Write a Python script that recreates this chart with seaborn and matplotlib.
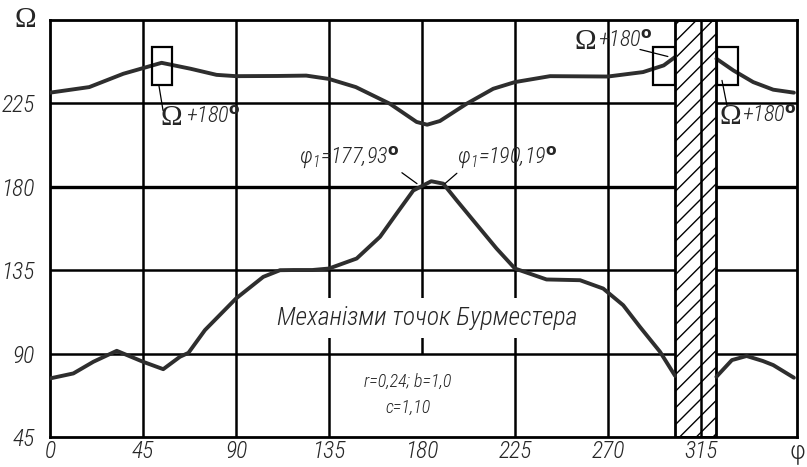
import matplotlib
matplotlib.use("Agg")
import matplotlib.pyplot as plt
from matplotlib import font_manager
import seaborn as sns
import pandas as pd

# Omega(phi) curves; the band 302.5..322.5 is excluded
upper_phi_a = [0, 19, 35.5, 54, 68, 80.6, 90, 110, 124, 135, 148, 164.5, 177.4, 182.5, 188.7, 201.6,
               214.5, 225, 242, 270, 287, 297, 302.5]
upper_om_a = [230.8, 233.8, 241, 246.9, 243.7, 240.4, 239.7, 239.8, 240, 238.2, 233.8, 224.8, 215,
              213.5, 215.5, 224.8, 232.9, 236.5, 239.7, 239.5, 241.9, 245.5, 250]
upper_phi_b = [322.5, 330.7, 340.3, 350, 360]
upper_om_b = [249.1, 242.8, 236.5, 232.4, 230.8]

lower_phi_a = [0, 11.3, 21, 32.3, 45, 54.8, 62.9, 67, 75, 90, 103.2, 111.3, 118, 127, 135, 148.4,
               159.7, 167.7, 175.8, 184.5, 190.3, 196.8, 204.8, 216.1, 225, 240.3, 256.5, 267.7,
               277.4, 285.5, 295.2, 302.5]
lower_om_a = [76.6, 79.3, 85.6, 91.5, 85.6, 81.6, 88.3, 90.4, 102.7, 119.7, 131.4, 135, 135.1, 135.1,
              135.9, 141.3, 153, 165.5, 178, 183, 181.7, 172.7, 161.9, 146.7, 135.9, 130, 129.6, 125.1,
              116.1, 104.4, 91, 78]
lower_phi_b = [322.5, 330, 337.1, 345, 350, 360]
lower_om_b = [77.5, 86.5, 88.7, 86, 83.8, 77]

x_ticks = [0, 45, 90, 135, 180, 225, 270, 315]
y_ticks = [45, 90, 135, 180, 225]
band = (302.5, 322.5)

# narrow italic font, first one that is installed
names = {f.name for f in font_manager.fontManager.ttflist}
font = "DejaVu Sans"
for cand in ["Liberation Sans Narrow", "Roboto Condensed", "Open Sans Condensed", "Roboto", "Lato"]:
    if cand in names:
        font = cand
        break

sns.set_style("white")
plt.rcParams["font.family"] = [font, "DejaVu Sans"]
plt.rcParams["font.weight"] = 300
plt.rcParams["mathtext.fontset"] = "custom"
plt.rcParams["mathtext.rm"] = font + ":italic:light"
plt.rcParams["mathtext.it"] = font + ":italic:light"
plt.rcParams["mathtext.bf"] = "DejaVu Sans:bold"
plt.rcParams["hatch.linewidth"] = 1.0

fig = plt.figure(figsize=(8.07, 4.67), dpi=100)
ax = fig.add_axes([50 / 807, 30 / 467, 747 / 807, 417 / 467])
ax.set_xlim(0, 361.5)
ax.set_ylim(45, 270)

# grid, drawn by hand because the 180 line stops at 90
for xv in [45, 90, 135, 225, 270, 315]:
    ax.axvline(xv, color="black", lw=1.8, zorder=1)
ax.vlines(180, 90, 270, color="black", lw=1.8, zorder=1)
for yv in [90, 135, 225]:
    ax.axhline(yv, color="black", lw=1.8, zorder=1)
ax.axhline(180, color="black", lw=2.4, zorder=1)

ax.axvspan(*band, facecolor="white", edgecolor="black", hatch="//", lw=2, zorder=2)
ax.axvline(315, color="black", lw=1.8, zorder=3)

curve_kw = dict(color="#2e2e2e", lw=2.8, zorder=4, sort=False)
for px, py in [(upper_phi_a, upper_om_a), (upper_phi_b, upper_om_b),
               (lower_phi_a, lower_om_a), (lower_phi_b, lower_om_b)]:
    df = pd.DataFrame({"phi": px, "om": py})
    sns.lineplot(data=df, x="phi", y="om", ax=ax, **curve_kw)

# little boxes marking the Omega+180 jumps
for x0, x1 in [(49.4, 59), (291.6, 302.4), (322.6, 333.1)]:
    ax.add_patch(plt.Rectangle((x0, 235.1), x1 - x0, 20.5, fill=False, ec="black", lw=1.6, zorder=5))

deg = r"$^{\mathbf{o}}$"


def omega_label(xo, xp, yv, line):
    ax.text(xo, yv, "Ω", fontsize=21, family="Liberation Serif", ha="center", va="center", zorder=6)
    ax.text(xp, yv + 1, "+180" + deg, fontsize=16, style="italic", ha="left", va="center", zorder=6)
    ax.plot(line[0], line[1], color="black", lw=0.9, zorder=6)


omega_label(58.5, 66.0, 216.9, ([52.7, 54.7], [234.7, 221.2]))
omega_label(258.9, 265.0, 257.9, ([285.5, 299.0], [254.1, 250.3]))
omega_label(329.0, 335.0, 217.5, ([325.2, 327.6], [237.4, 223.9]))

ax.text(145, 195.5, "φ$_1$=177,93" + deg, fontsize=16, style="italic", ha="center", va="center", zorder=6)
ax.plot([170.3, 177.6], [187.6, 181.7], color="black", lw=0.9, zorder=6)
ax.text(221, 195.5, "φ$_1$=190,19" + deg, fontsize=16, style="italic", ha="center", va="center", zorder=6)
ax.plot([196.9, 191.1], [187.3, 181.7], color="black", lw=0.9, zorder=6)

ax.text(182.4, 109.1, "Механізми точок Бурместера", fontsize=18.5, style="italic", ha="center",
        va="center", zorder=6, bbox=dict(facecolor="white", edgecolor="none", pad=6))
ax.text(173.2, 74.6, "r=0,24; b=1,0", fontsize=13, style="italic", ha="center", va="center", zorder=6)
ax.text(173.2, 60.6, "c=1,10", fontsize=13, style="italic", ha="center", va="center", zorder=6)

ax.set_xticks(x_ticks)
ax.set_xticklabels([str(v) for v in x_ticks], fontsize=17, style="italic")
ax.set_yticks(y_ticks)
ax.set_yticklabels([str(v) for v in y_ticks], fontsize=17, style="italic")
ax.tick_params(length=0, pad=2)
ax.tick_params(axis="y", pad=11)
ax.set_xlabel("")
ax.set_ylabel("")
for sp in ax.spines.values():
    sp.set_visible(True)
    sp.set_color("black")
    sp.set_linewidth(2)

fig.text(25 / 807, 1 - 20 / 467, "Ω", fontsize=21, family="Liberation Serif", ha="center", va="center")
fig.text(789 / 807, 12 / 467, "φ$_1$", fontsize=19, ha="left", va="center")

fig.savefig("out.png", dpi=100)
